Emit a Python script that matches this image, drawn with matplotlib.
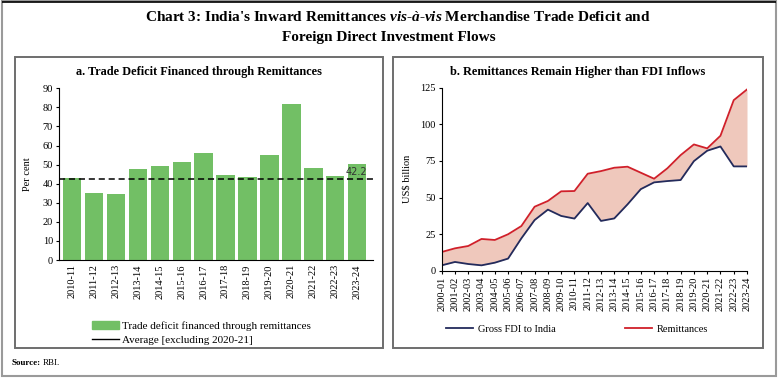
"""
Chart 3: India's inward remittances vs merchandise trade deficit and FDI flows.

Two panels side by side inside grey frames, saved to out.png (778x379).
"""
import matplotlib.pyplot as plt
from matplotlib.lines import Line2D
from matplotlib.patches import Patch, Rectangle

W, H = 778, 379

# panel a: share of trade deficit financed through remittances (per cent)
years_a = ["2010-11", "2011-12", "2012-13", "2013-14", "2014-15", "2015-16",
           "2016-17", "2017-18", "2018-19", "2019-20", "2020-21", "2021-22",
           "2022-23", "2023-24"]
deficit_share = [42.8, 34.9, 34.8, 47.7, 49.1, 51.5, 56.0, 44.5, 43.5, 55.0,
                 81.8, 48.4, 43.8, 50.3]
avg_excl = 42.2

# panel b: US$ billion
years_b = ["2000-01", "2001-02", "2002-03", "2003-04", "2004-05", "2005-06",
           "2006-07", "2007-08", "2008-09", "2009-10", "2010-11", "2011-12",
           "2012-13", "2013-14", "2014-15", "2015-16", "2016-17", "2017-18",
           "2018-19", "2019-20", "2020-21", "2021-22", "2022-23", "2023-24"]
fdi = [3.8, 6.1, 4.7, 3.8, 5.6, 8.4, 22.2, 34.7, 41.8, 37.5, 35.7, 46.3,
       34.1, 35.8, 45.4, 55.8, 60.4, 61.3, 62.0, 74.9, 82.0, 84.9, 71.3, 71.3]
remit = [12.9, 15.4, 17.0, 21.8, 21.1, 25.0, 30.6, 43.8, 47.7, 54.3, 54.5,
         66.3, 68.1, 70.4, 71.1, 67.0, 62.9, 70.0, 79.0, 86.3, 83.6, 92.2,
         116.5, 123.8]

GREEN = "#72bf65"
NAVY = "#232b5c"
RED = "#d0202a"
FILL = "#efc8bc"
SERIF = "Liberation Serif"

plt.rcParams["font.family"] = SERIF
plt.rcParams["font.size"] = 7.5
plt.rcParams["mathtext.fontset"] = "custom"
plt.rcParams["mathtext.rm"] = SERIF
plt.rcParams["mathtext.it"] = SERIF + ":italic:bold"
plt.rcParams["mathtext.bf"] = SERIF + ":bold"


def box(px_left, px_top, px_right, px_bottom):
    """Axes rectangle in figure fractions from pixel edges."""
    return [px_left / W, 1 - px_bottom / H, (px_right - px_left) / W,
            (px_bottom - px_top) / H]


fig = plt.figure(figsize=(W / 100, H / 100), dpi=100)

# frames
fig.patches.append(Rectangle((2 / W, 1 - 376 / H), 774 / W, 375 / H,
                             transform=fig.transFigure, fill=False,
                             edgecolor="#9a9a9a", lw=1.5))
fig.patches.append(Rectangle((2 / W, 1 - 1.5 / H), 774 / W, 0,
                             transform=fig.transFigure, fill=False,
                             edgecolor="black", lw=1.2))
for x0, x1 in [(14.5, 383), (393, 763)]:
    fig.patches.append(Rectangle((x0 / W, 1 - 348 / H), (x1 - x0) / W,
                                 (348 - 57) / H, transform=fig.transFigure,
                                 fill=False, edgecolor="#6e6e6e", lw=1.4))

fig.text(398 / W, 1 - 18 / H,
         r"Chart 3: India's Inward Remittances $\mathit{vis}$-$\mathit{\`a}$-$\mathit{vis}$"
         " Merchandise Trade Deficit and", ha="center", va="center",
         fontsize=11, fontweight="bold")
fig.text(389 / W, 1 - 37 / H, "Foreign Direct Investment Flows",
         ha="center", va="center", fontsize=11, fontweight="bold")
fig.text(12 / W, 1 - 363 / H, "Source:", ha="left", va="center",
         fontsize=6.5, fontweight="bold")
fig.text(43 / W, 1 - 363 / H, "RBI.", ha="left", va="center", fontsize=6.5)

# panel titles, centred on the grey frames
fig.text(199 / W, 1 - 72 / H, "a. Trade Deficit Financed through Remittances",
         ha="center", va="center", fontsize=8.8, fontweight="bold")
fig.text(578 / W, 1 - 72 / H, "b. Remittances Remain Higher than FDI Inflows",
         ha="center", va="center", fontsize=8.8, fontweight="bold")

# ---- panel a ----
ax = fig.add_axes(box(59.3, 88.3, 372.7, 260))
x = range(len(years_a))
ax.bar(x, deficit_share, width=0.83, color=GREEN)
ax.axhline(avg_excl, color="black", ls=(0, (4, 2.5)), lw=1.1)
ax.text(12.95, avg_excl + 1.2, f"{avg_excl}", ha="center", va="bottom",
        fontsize=7, family="DejaVu Sans", color="#333333")
ax.set_xlim(-0.57, 13.7)
ax.set_ylim(0, 90)
ax.set_yticks(range(0, 91, 10))
ax.set_xticks(list(x))
ax.set_xticklabels(years_a, rotation=90)
ax.tick_params(axis="x", length=0, pad=3)
ax.tick_params(axis="y", length=2.5, pad=2)
for s in ("top", "right"):
    ax.spines[s].set_visible(False)
ax.set_ylabel("Per cent", labelpad=8)
ax.legend(handles=[Patch(color=GREEN, label="Trade deficit financed through remittances"),
                   Line2D([], [], color="black", lw=1,
                          label="Average [excluding 2020-21]")],
          loc="upper left", bbox_to_anchor=(0.09, -0.33), frameon=False,
          fontsize=8, handlelength=2.4, handletextpad=0.3, labelspacing=0.35,
          borderaxespad=0)

# ---- panel b ----
bx = fig.add_axes(box(441.7, 87.7, 747, 270.9))
xb = list(range(len(years_b)))
bx.fill_between(xb, fdi, remit, color=FILL, lw=0)
bx.plot(xb, fdi, color=NAVY, lw=1.3, label="Gross FDI to India")
bx.plot(xb, remit, color=RED, lw=1.3, label="Remittances")
bx.set_xlim(0, len(years_b) - 1)
bx.set_ylim(0, 125)
bx.set_yticks(range(0, 126, 25))
bx.set_xticks(xb)
bx.set_xticklabels(years_b, rotation=90)
bx.tick_params(axis="x", length=2.5, pad=1.5)
bx.tick_params(axis="y", length=2.5, pad=2)
for s in ("top", "right"):
    bx.spines[s].set_visible(False)
bx.set_ylabel("US$ billion", labelpad=6)
bx.legend(loc="upper left", bbox_to_anchor=(0.0, -0.27), ncol=2,
          frameon=False, fontsize=7.5, handlelength=2.6, handletextpad=0.5,
          columnspacing=6.6, borderaxespad=0)

fig.savefig("out.png", dpi=100)
